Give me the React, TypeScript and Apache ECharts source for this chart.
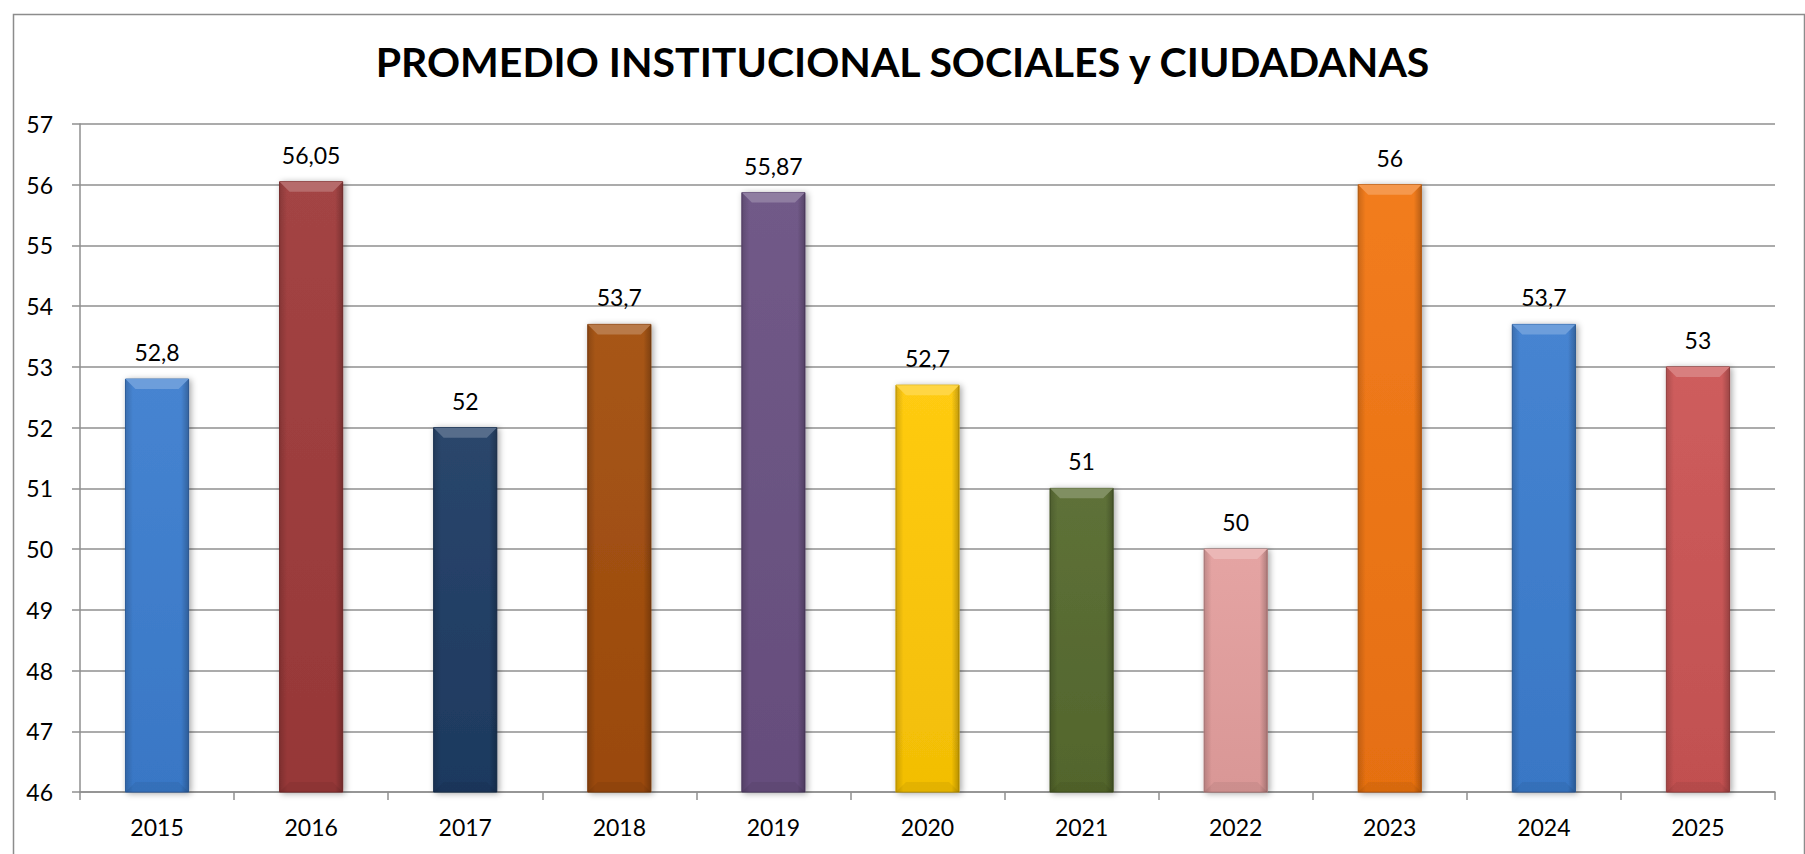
import React, { useEffect, useRef } from "react";
import * as echarts from "echarts";

const title = "PROMEDIO INSTITUCIONAL SOCIALES y CIUDADANAS";
const years = ["2015", "2016", "2017", "2018", "2019", "2020", "2021", "2022", "2023", "2024", "2025"];
const values = [52.8, 56.05, 52, 53.7, 55.87, 52.7, 51, 50, 56, 53.7, 53];
const barColors = ["#3C7DCF", "#9E3A3A", "#1F3C64", "#A24D0C", "#6A5182", "#FFC805", "#566A2E", "#E49F9E", "#F17512", "#3C7DCF", "#CB5454"];
const yMin = 46;
const yMax = 57;

function mix(hex: string, target: number, t: number): string {
  const n = parseInt(hex.slice(1), 16);
  const r = (n >> 16) & 255, g = (n >> 8) & 255, b = n & 255;
  const f = (c: number) => Math.round(c + (target - c) * t);
  return `rgb(${f(r)},${f(g)},${f(b)})`;
}
const lighten = (h: string, t: number) => mix(h, 255, t);
const darken = (h: string, t: number) => mix(h, 0, t);

const fmt = (v: number) => String(v).replace(".", ",");

export default function App() {
  const ref = useRef<HTMLDivElement>(null);
  useEffect(() => {
    document.body.style.margin = "0";
    const chart = echarts.init(ref.current!, undefined, { renderer: "svg" });
    const font = "Lato, 'Open Sans', sans-serif";
    chart.setOption({
      animation: false,
      backgroundColor: "#ffffff",
      title: {
        text: title,
        left: "center",
        top: 36,
        textStyle: { fontFamily: font, fontWeight: "bold", fontSize: 41, color: "#000" },
      },
      graphic: [
        {
          type: "rect",
          left: 11,
          top: 12,
          shape: { width: 1791, height: 900 },
          style: { fill: "none", stroke: "#8c8c8c", lineWidth: 1.5 },
          silent: true,
        },
      ],
      grid: { left: 80, right: 30, top: 124, bottom: 62, containLabel: false },
      xAxis: {
        type: "category",
        data: years,
        boundaryGap: true,
        axisLine: { show: true, lineStyle: { color: "#8f8f8f", width: 1.5 } },
        axisTick: { show: true, length: 8, lineStyle: { color: "#8f8f8f", width: 1.5 } },
        axisLabel: { margin: 23, fontFamily: font, fontSize: 23, color: "#000" },
      },
      yAxis: {
        type: "value",
        min: yMin,
        max: yMax,
        interval: 1,
        axisLine: { show: true, lineStyle: { color: "#8f8f8f", width: 1.5 } },
        axisTick: { show: true, length: 8, lineStyle: { color: "#8f8f8f", width: 1.5 } },
        axisLabel: { margin: 27, fontFamily: font, fontSize: 23, color: "#000" },
        splitLine: { show: true, lineStyle: { color: "#8f8f8f", width: 1.5 } },
      },
      series: [
        {
          type: "custom",
          data: values.map((v, i) => [i, v]),
          encode: { x: 0, y: 1 },
          renderItem: (params: any, api: any) => {
            const idx = api.value(0);
            const val = api.value(1);
            const top = api.coord([idx, val]);
            const base = api.coord([idx, yMin]);
            const bw = api.size([1, 0])[0] * 0.41;
            const x = top[0] - bw / 2;
            const y = top[1];
            const h = base[1] - top[1];
            const c = barColors[params.dataIndex];
            const b = 10;
            return {
              type: "group",
              children: [
                {
                  type: "rect",
                  shape: { x, y, width: bw, height: h },
                  style: {
                    fill: new echarts.graphic.LinearGradient(0, 0, 0, 1, [
                      { offset: 0, color: lighten(c, 0.05) },
                      { offset: 1, color: darken(c, 0.05) },
                    ]),
                    stroke: darken(c, 0.2),
                    lineWidth: 1,
                    shadowBlur: 6,
                    shadowColor: "rgba(0,0,0,0.35)",
                    shadowOffsetX: 2,
                    shadowOffsetY: 1,
                  },
                },
                {
                  type: "rect",
                  shape: { x, y, width: bw, height: h },
                  style: {
                    fill: new echarts.graphic.LinearGradient(0, 0, 1, 0, [
                      { offset: 0, color: "rgba(0,0,0,0.16)" },
                      { offset: 0.12, color: "rgba(0,0,0,0)" },
                      { offset: 0.88, color: "rgba(0,0,0,0)" },
                      { offset: 1, color: "rgba(0,0,0,0.24)" },
                    ]),
                  },
                },
                {
                  type: "polygon",
                  shape: { points: [[x, y], [x + bw, y], [x + bw - b, y + b], [x + b, y + b]] },
                  style: { fill: lighten(c, 0.25) },
                },
                {
                  type: "polygon",
                  shape: { points: [[x, y + h], [x + b, y + h - b], [x + bw - b, y + h - b], [x + bw, y + h]] },
                  style: { fill: "rgba(0,0,0,0.06)" },
                },
                {
                  type: "text",
                  style: {
                    x: top[0],
                    y: y - 27,
                    text: fmt(values[params.dataIndex]),
                    fill: "#000",
                    font: `23px ${font}`,
                    align: "center",
                    verticalAlign: "middle",
                  },
                },
              ],
            };
          },
        },
      ],
    });
    return () => chart.dispose();
  }, []);
  return <div ref={ref} style={{ position: "fixed", left: 0, top: 0, width: 1805, height: 854, background: "#fff" }} />;
}
